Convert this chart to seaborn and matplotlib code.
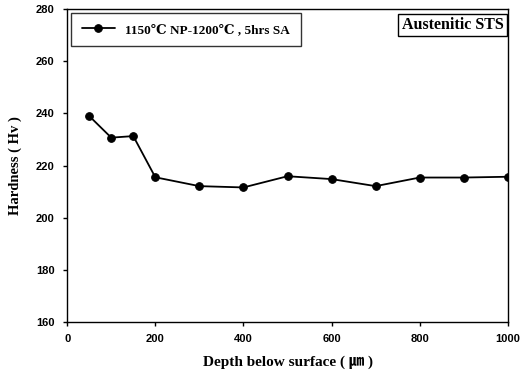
import matplotlib
matplotlib.use("Agg")
import matplotlib.pyplot as plt
import seaborn as sns
import pandas as pd

depth = [50, 100, 150, 200, 300, 400, 500, 600, 700, 800, 900, 1000]
hardness = [239.0, 230.7, 231.3, 215.5, 212.1, 211.6, 215.9, 214.8, 212.1, 215.4, 215.4, 215.7]
series_label = "1150\u2103 NP-1200\u2103 , 5hrs SA"
x_ticks = [0, 200, 400, 600, 800, 1000]
y_ticks = [160, 180, 200, 220, 240, 260, 280]

sns.set_theme(style="ticks")
plt.rcParams["font.family"] = ["Liberation Serif", "DejaVu Serif", "Noto Sans CJK KR"]
plt.rcParams["text.color"] = "black"
plt.rcParams["axes.labelcolor"] = "black"

df = pd.DataFrame({"Depth": depth, "Hardness": hardness, "Series": series_label})

fig = plt.figure(figsize=(5.29, 3.81), dpi=100)
ax = fig.add_axes([0.127, 0.155, 0.833, 0.821])

sns.lineplot(data=df, x="Depth", y="Hardness", hue="Series", palette=["black"],
             marker="o", markersize=5.5, linewidth=1.3, markeredgecolor="black", ax=ax)

ax.set_xlim(0, 1000)
ax.set_ylim(160, 280)
ax.set_xticks(x_ticks)
ax.set_yticks(y_ticks)
for lab in ax.get_xticklabels() + ax.get_yticklabels():
    lab.set_fontfamily("Liberation Sans")
    lab.set_fontweight("bold")
    lab.set_fontsize(8)
    lab.set_color("black")
ax.tick_params(direction="out", length=3, width=1, colors="black", pad=6)
for s in ax.spines.values():
    s.set_visible(True)
    s.set_color("black")
    s.set_linewidth(1.0)

ax.set_xlabel("Depth below surface ( \u339b )", fontsize=11, fontweight="bold",
              family=["Liberation Serif", "Noto Sans CJK KR"], labelpad=8)
ax.set_ylabel("Hardness ( Hv )", fontsize=10.5, fontweight="bold", labelpad=10)

leg = ax.legend(loc="upper left", frameon=True, fancybox=False,
                edgecolor="black", borderpad=0.8, handlelength=2.5,
                borderaxespad=0.3, bbox_to_anchor=(0.0, 1.0),
                prop={"weight": "bold", "size": 9.5,
                      "family": ["Liberation Serif", "DejaVu Serif"]})
leg.get_frame().set_linewidth(1.0)

ax.text(0.99, 0.975, "Austenitic STS", transform=ax.transAxes, ha="right", va="top",
        fontsize=11.5, fontweight="bold",
        bbox=dict(boxstyle="square,pad=0.2", facecolor="white", edgecolor="black", linewidth=1.0))

fig.savefig("out.png", dpi=100)
